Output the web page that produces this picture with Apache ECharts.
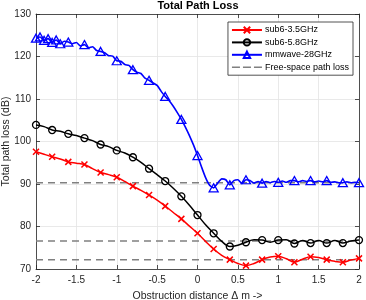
<!DOCTYPE html>
<html>
<head>
<meta charset="utf-8">
<script src="https://cdn.jsdelivr.net/npm/echarts@6/dist/echarts.min.js"></script>
<style>html,body{margin:0;padding:0;background:#fff;}#c{width:366px;height:300px;}</style>
</head>
<body>
<div id="c"></div>
<script>
// ---- data ----
var xSub6 = [-2.0,-1.9,-1.8,-1.7,-1.6,-1.5,-1.4,-1.3,-1.2,-1.1,-1.0,-0.9,-0.8,-0.7,-0.6,-0.5,-0.4,-0.3,-0.2,-0.1,0.0,0.1,0.2,0.3,0.4,0.5,0.6,0.7,0.8,0.9,1.0,1.1,1.2,1.3,1.4,1.5,1.6,1.7,1.8,1.9,2.0];
var sub6_35 = [97.6,97.0,96.4,95.9,95.2,94.9,94.6,93.6,92.7,92.2,91.6,90.6,89.5,88.5,87.4,86.2,84.8,83.3,81.8,80.1,78.4,76.5,74.7,73.2,72.2,71.3,70.8,71.3,72.2,72.8,73.0,72.4,71.6,72.3,72.9,72.7,72.2,71.8,71.6,72.1,72.5];
var sub6_58 = [103.9,103.5,102.7,102.4,101.8,101.4,100.8,100.2,99.3,98.8,97.9,97.3,96.3,95.1,93.6,92.2,90.7,89.0,87.1,85.0,82.7,80.4,78.4,76.5,75.3,75.6,76.3,76.9,76.8,76.3,76.8,76.9,76.0,76.7,76.1,76.7,76.1,76.7,76.1,76.6,76.8];
var xMmw = [-2.00,-1.95,-1.90,-1.85,-1.80,-1.75,-1.70,-1.65,-1.60,-1.55,-1.50,-1.45,-1.40,-1.35,-1.30,-1.25,-1.20,-1.15,-1.10,-1.05,-1.00,-0.95,-0.90,-0.85,-0.80,-0.75,-0.70,-0.65,-0.60,-0.55,-0.50,-0.45,-0.40,-0.35,-0.30,-0.25,-0.20,-0.15,-0.10,-0.05,0.00,0.05,0.10,0.15,0.20,0.25,0.30,0.35,0.40,0.45,0.50,0.55,0.60,0.65,0.70,0.75,0.80,0.85,0.90,0.95,1.00,1.05,1.10,1.15,1.20,1.25,1.30,1.35,1.40,1.45,1.50,1.55,1.60,1.65,1.70,1.75,1.80,1.85,1.90,1.95,2.00];
var mmw28 = [124.3,124.6,123.8,124.2,123.3,123.9,123.0,123.6,123.4,123.0,123.3,122.5,122.8,122.0,122.3,121.4,121.2,120.9,120.2,120.1,119.0,118.9,118.1,117.9,116.9,116.3,116.0,114.9,114.4,113.8,113.2,111.8,110.6,109.6,108.3,106.8,105.2,103.4,101.4,99.2,96.7,94.0,91.5,89.7,89.1,90.2,91.2,91.0,89.8,90.8,91.0,90.1,91.0,90.8,90.2,90.6,90.2,90.6,90.3,90.6,90.4,90.7,90.4,90.8,90.8,90.5,90.8,90.6,90.8,90.5,90.7,90.5,90.8,90.4,90.5,90.3,90.3,90.5,90.3,90.4,90.3];
var fsplX = [-2, 2];
var fspl = [90.3, 76.6, 72.2];
var seriesNames = ['sub6-3.5GHz','sub6-5.8GHz','mmwave-28GHz','Free-space path loss'];
var xTicks = {min:-2, max:2, interval:0.5};
var yTicks = {min:70, max:130, interval:10};

function marked(xs, ys, keep){
  return xs.map(function(x,i){
    var d = {value:[x, ys[i]]};
    if (!keep(i)) d.symbol = 'none';
    return d;
  });
}

var crossPath = 'path://M0,0 L10,10 M10,0 L0,10';
var triPath = 'path://M5,0 L10,9 L0,9 Z';
var dashIcon = 'path://M0,0 L8,0 L8,1.6 L0,1.6 Z M11,0 L19,0 L19,1.6 L11,1.6 Z M22,0 L30,0 L30,1.6 L22,1.6 Z';
var txt = '#262626';
var font = 'Liberation Sans, Arial, Helvetica, sans-serif';

function baseX(show){
  return {type:'value', min:xTicks.min, max:xTicks.max, interval:xTicks.interval,
    position: show ? 'bottom' : 'top',
    axisLine:{show:true, onZero:false, lineStyle:{color:txt, width:0.8}},
    axisTick:{show:true, inside:true, length:4, lineStyle:{color:txt, width:0.8}},
    axisLabel:{show:show, color:txt, fontSize:10, fontFamily:font, margin:6},
    splitLine:{show:show, lineStyle:{color:'#e3e3e3', width:0.8}}};
}
function baseY(show){
  return {type:'value', min:yTicks.min, max:yTicks.max, interval:yTicks.interval,
    position: show ? 'left' : 'right',
    axisLine:{show:true, onZero:false, lineStyle:{color:txt, width:0.8}},
    axisTick:{show:true, inside:true, length:4, lineStyle:{color:txt, width:0.8}},
    axisLabel:{show:show, color:txt, fontSize:10, fontFamily:font, margin:5},
    splitLine:{show:show, lineStyle:{color:'#e3e3e3', width:0.8}}};
}
var xa = baseX(true);
xa.name = 'Obstruction distance \u0394 m ->';
xa.nameLocation = 'middle'; xa.nameGap = 22; xa.nameMoveOverlap = false;
xa.nameTextStyle = {color:txt, fontSize:10.5, fontFamily:font};
var ya = baseY(true);
ya.name = 'Total path loss (dB)';
ya.nameLocation = 'middle'; ya.nameGap = 24; ya.nameMoveOverlap = false;
ya.nameTextStyle = {color:txt, fontSize:10.5, fontFamily:font};

var series = [];
fspl.forEach(function(v){
  series.push({name:seriesNames[3], type:'line', data:[[fsplX[0], v],[fsplX[1], v]], showSymbol:false, symbol:'none',
    lineStyle:{color:'#808080', width:1.5, type:[7,5]}, itemStyle:{color:'#808080'}, z:1, silent:true});
});
series.push({name:seriesNames[0], type:'line', data:marked(xSub6, sub6_35, function(i){return i%2===0;}), smooth:0.35, showAllSymbol:true,
  symbol:crossPath, symbolSize:6,
  lineStyle:{color:'#ff0000', width:1.5}, itemStyle:{color:'rgba(0,0,0,0)', borderColor:'#ff0000', borderWidth:1.5}, z:3});
series.push({name:seriesNames[1], type:'line', data:marked(xSub6, sub6_58, function(i){return i%2===0;}), smooth:0.35, showAllSymbol:true,
  symbol:'circle', symbolSize:7,
  lineStyle:{color:'#000000', width:1.5}, itemStyle:{color:'rgba(0,0,0,0)', borderColor:'#000000', borderWidth:1.3}, z:3});
series.push({name:seriesNames[2], type:'line', data:marked(xMmw, mmw28, function(i){return i%4===0 || i<7;}), smooth:0.2, showAllSymbol:true,
  symbol:triPath, symbolSize:[9,8],
  lineStyle:{color:'#0000ff', width:1.6}, itemStyle:{color:'rgba(0,0,0,0)', borderColor:'#0000ff', borderWidth:1.3}, z:4});

var chart = echarts.init(document.getElementById('c'), null, {renderer:'canvas'});
chart.setOption({
  animation:false,
  backgroundColor:'#fff',
  title:{text:'Total Path Loss', left:198, textAlign:'center', top:0, padding:0,
    textStyle:{fontSize:11, fontWeight:'bold', color:'#000', fontFamily:font}},
  grid:{left:36, right:7, top:14, bottom:31, containLabel:false, outerBoundsMode:'none'},
  legend:{orient:'vertical', right:13, top:22,
    data:[{name:seriesNames[0]},{name:seriesNames[1]},{name:seriesNames[2]},{name:seriesNames[3], icon:dashIcon, itemStyle:{color:'#808080'}}],
    itemWidth:30, itemHeight:8, itemGap:2.4, padding:[3,4,3,3], symbolKeepAspect:true,
    backgroundColor:'#fff', borderColor:txt, borderWidth:0.8,
    textStyle:{fontSize:9, color:'#000', fontFamily:font, lineHeight:10, padding:[0,0,0,-2]}},
  xAxis:[xa, baseX(false)],
  yAxis:[ya, baseY(false)],
  series:series
});
</script>
</body>
</html>
